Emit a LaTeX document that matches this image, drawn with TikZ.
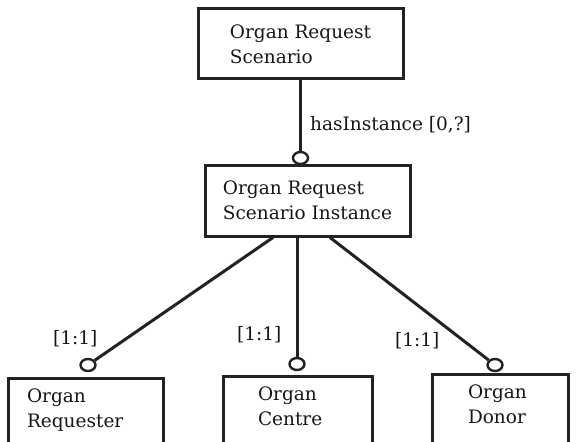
\documentclass[tikz,border=0pt]{standalone}
\usepackage{fontspec}
\setmainfont{DejaVu Serif}
\usetikzlibrary{shapes.geometric}

\definecolor{orgInk}{RGB}{34,34,34}
\definecolor{orgText}{RGB}{22,22,22}

\begin{document}
\begin{tikzpicture}[x=1pt,y=-1pt,
      entity/.style={draw=orgInk, line width=3pt, rectangle, align=left,
        font=\fontsize{18.5}{25}\selectfont, text=orgText, inner sep=6pt},
      party/.style={entity, anchor=north, text depth=60pt, inner ysep=10pt},
      ring/.style={draw=orgInk, line width=2.4pt, ellipse, fill=white,
        minimum width=15pt, minimum height=12pt, inner sep=0pt},
      link/.style={draw=orgInk, line width=3pt},
      role/.style={font=\fontsize{18.5}{25}\selectfont, text=orgText,
        anchor=base west, inner sep=0pt}]
      \useasboundingbox (0,0) rectangle (577,441);
      \fill[white] (0,0) rectangle (577,441);

      % scenario and its instance
      \node[entity, minimum width=205pt, minimum height=70pt] (scen)
        at (300.5,44) {Organ Request\\Scenario};
      \node[entity, minimum width=205pt, minimum height=71pt] (inst)
        at (307.5,200.5) {Organ Request\\Scenario Instance};
      \node[ring] (c0) at (300.5,158) {};
      \draw[link] (scen.south) -- (c0.north);
      \node[role] (hasinst) at (310,130) {hasInstance [0,?]};

      % the three parties
      \node[party, text width=117pt, inner xsep=19pt] (req)
        at (85.5,377) {Organ\\Requester};
      \node[party, text width=79pt, inner xsep=35pt] (ctr)
        at (297.5,375) {Organ\\Centre};
      \node[party, text width=64pt, inner xsep=36pt] (don)
        at (500,373) {Organ\\Donor};
      \node[ring] (cl) at (88,365) {};
      \node[ring] (cc) at (297,364) {};
      \node[ring] (cr) at (495,365) {};
      \draw[link] ([xshift=-34.5pt]inst.south) -- (cl);
      \draw[link] ([xshift=-10.5pt]inst.south) -- (cc.north);
      \draw[link] ([xshift=22.5pt]inst.south) -- (cr);
      \node[role] (rl) at (53,344) {[1:1]};
      \node[role] (rc) at (237,340) {[1:1]};
      \node[role] (rr) at (395,346) {[1:1]};
    \end{tikzpicture}
\end{document}
